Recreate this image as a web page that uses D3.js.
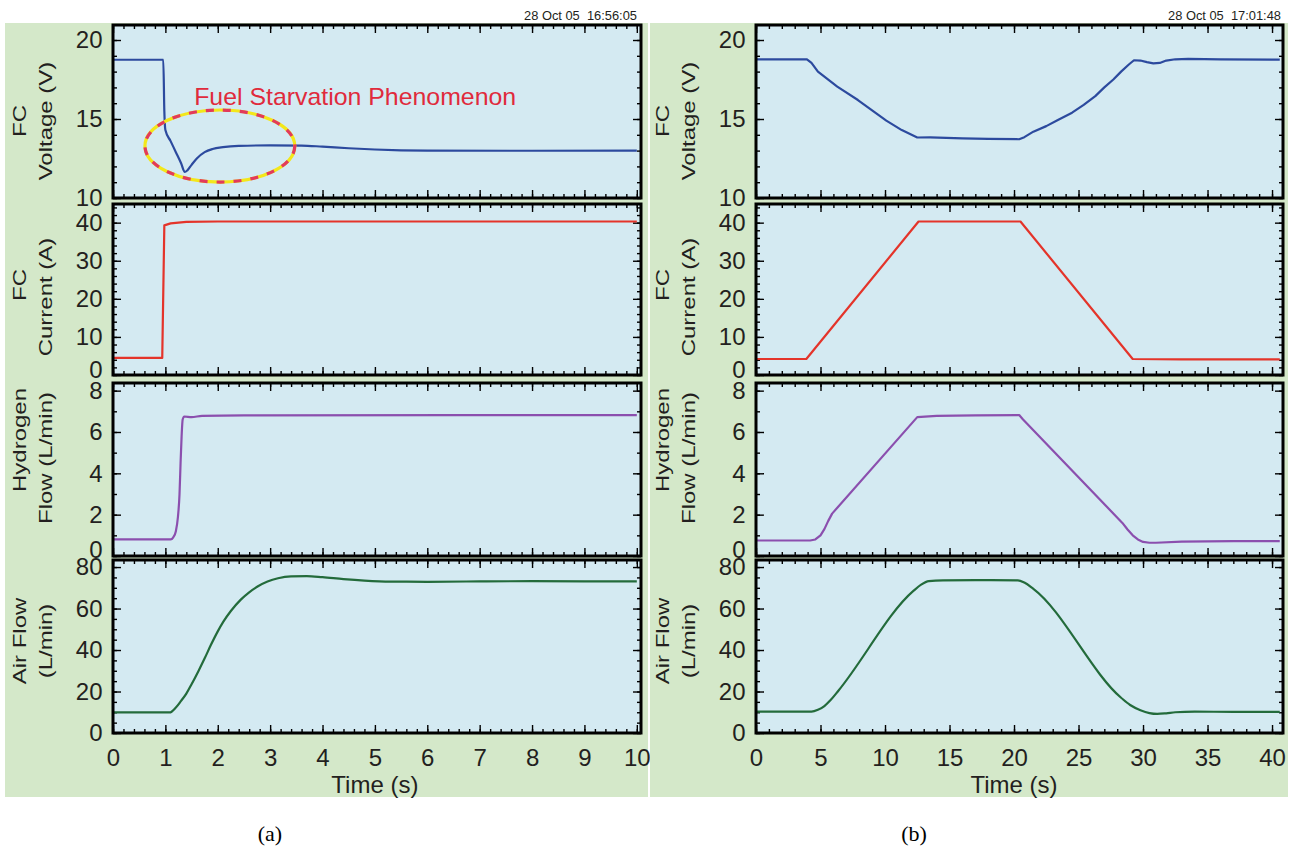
<!DOCTYPE html>
<html><head><meta charset="utf-8">
<script src="https://cdn.jsdelivr.net/npm/d3@7"></script>
<style>body{margin:0;background:#fff} svg{display:block} text{white-space:pre}</style>
</head><body>
<svg id="c" width="1296" height="849"></svg>
<script>
// ---------------- DATA ----------------
const yLabelLine1 = ["FC", "FC", "Hydrogen", "Air Flow"];
const yLabelLine2 = ["Voltage (V)", "Current (A)", "Flow (L/min)", "(L/min)"];
const yTickValues = [[10, 15, 20], [0, 10, 20, 30, 40], [0, 2, 4, 6, 8], [0, 20, 40, 60, 80]];
const yDomains = [[10, 20.95], [0, 44.9], [0, 8.37], [0, 83.4]];
const yMinorCounts = [11, 22, 8, 16];

const xTicksA = [0, 1, 2, 3, 4, 5, 6, 7, 8, 9, 10];
const xTicksB = [0, 5, 10, 15, 20, 25, 30, 35, 40];
const xDomainA = [0, 10.08];
const xDomainB = [0, 40.85];
const xMinorCountA = 50;
const xMinorCountB = 40;
const xAxisTitle = "Time (s)";
const timestampA = "28 Oct 05  16:56:05";
const timestampB = "28 Oct 05  17:01:48";
const figLetters = ["(a)", "(b)"];
const annotationText = "Fuel Starvation Phenomenon";

// Figure (a): step to 40 A at ~1 s
const tVoltA = [0, 0.96, 0.98, 1.0, 1.1, 1.2, 1.3, 1.37, 1.42, 1.5, 1.6, 1.75, 1.9, 2.1, 2.4, 3.0, 3.6, 4.0, 4.5, 5.0, 5.5, 6.0, 8.0, 10.0];
const voltA  = [18.75, 18.75, 15.5, 14.3, 13.6, 12.9, 12.2, 11.65, 11.75, 12.1, 12.5, 12.9, 13.1, 13.22, 13.3, 13.33, 13.32, 13.25, 13.15, 13.07, 13.02, 13.0, 12.99, 13.0];
const tCurrA = [0, 0.94, 0.98, 1.1, 1.4, 2.0, 10.0];
const currA  = [4.5, 4.5, 39.3, 39.8, 40.2, 40.3, 40.3];
const tH2A = [0, 1.1, 1.15, 1.2, 1.24, 1.27, 1.29, 1.31, 1.33, 1.36, 1.5, 1.7, 2.5, 10.0];
const h2A  = [0.8, 0.8, 0.9, 1.2, 1.9, 3.0, 4.5, 5.8, 6.6, 6.75, 6.72, 6.78, 6.8, 6.82];
const tAirA = [0, 1.08, 1.2, 1.3, 1.4, 1.5, 1.63, 1.75, 1.87, 2.0, 2.11, 2.25, 2.44, 2.6, 2.76, 2.95, 3.15, 3.4, 3.7, 4.0, 4.4, 4.8, 5.3, 6.0, 7.0, 8.0, 9.0, 10.0];
const airA  = [9.9, 9.9, 12.3, 15.5, 19, 23.5, 29.8, 36, 42.5, 49, 53.8, 58.8, 64.3, 67.8, 70.6, 73, 74.6, 75.5, 75.6, 75.1, 74.2, 73.5, 73.0, 72.9, 73.1, 73.2, 73.1, 73.1];

// Figure (b): ramp to 40 A and back
const tVoltB = [0, 3.95, 4.3, 4.8, 5.5, 6.3, 7.9, 9.0, 10.1, 11.3, 12.5, 13.5, 16, 18, 20.4, 20.8, 21.5, 22.5, 23.4, 24.5, 25.4, 26.3, 27.0, 27.7, 28.3, 28.9, 29.3, 29.8, 30.3, 30.8, 31.3, 31.8, 32.5, 33.5, 36, 40.6];
const voltB  = [18.78, 18.78, 18.55, 18.0, 17.55, 17.05, 16.2, 15.55, 14.9, 14.3, 13.83, 13.84, 13.78, 13.74, 13.72, 13.85, 14.2, 14.55, 14.94, 15.4, 15.9, 16.45, 17.0, 17.5, 18.0, 18.45, 18.72, 18.7, 18.6, 18.52, 18.55, 18.7, 18.78, 18.8, 18.78, 18.76];
const tCurrB = [0, 3.9, 12.6, 20.5, 29.2, 33, 40.6];
const currB  = [4.2, 4.2, 40.3, 40.3, 4.2, 4.1, 4.1];
const tH2B = [0, 4.2, 4.6, 5.0, 5.3, 5.6, 5.9, 12.5, 14, 17, 20.4, 20.7, 28.4, 28.8, 29.2, 29.6, 30.0, 30.5, 31, 33, 37, 40.6];
const h2B  = [0.75, 0.75, 0.8, 1.0, 1.3, 1.7, 2.05, 6.72, 6.78, 6.8, 6.82, 6.6, 1.6, 1.28, 1.0, 0.8, 0.68, 0.64, 0.64, 0.7, 0.72, 0.72];
const tAirB = [0, 4.3, 4.8, 5.3, 5.8, 6.4, 12.2, 12.8, 13.4, 14.5, 17, 20.3, 20.8, 21.5, 28.3, 29, 29.8, 30.5, 31.1, 31.8, 32.5, 34, 37, 40.6];
const airB  = [10.3, 10.3, 11.2, 13, 16, 20.5, 68.5, 71.5, 73.2, 73.6, 73.7, 73.6, 72.5, 69.5, 17, 13.5, 11, 9.6, 9.2, 9.5, 10.0, 10.3, 10.2, 10.2];

// annotation (data coordinates of figure a, voltage panel)
const ellipseCenter = [2.04, 13.29];
const ellipseRadii = [1.43, 2.28];
const annotationAnchor = [1.55, 15.89];

// ---------------- LAYOUT / STYLE ----------------
const seriesColors = ["#2c4a9e", "#e4342a", "#8b4fae", "#236b3b"];
const panelTop = [25, 204, 383, 560];
const panelBot = [198, 375, 556, 733];
const label1C = [121, 285, 440, 641];
const label2C = [121, 297, 458, 641];
const bottomLabelShift = [0, -5, -6, 0];
const greenBg = "#d4e8c9";
const blueBg = "#d4eaf2";
const textCol = "#231f20";
const FONT = "'Liberation Sans', Arial, Helvetica, sans-serif";
const LIN = d3.curveLinear, MONO = d3.curveMonotoneX;

const figs = [
  {left: 113, right: 641, bgX: 5, bgW: 643, domain: xDomainA, ticks: xTicksA, minor: xMinorCountA, stamp: timestampA, stampX: 524, letter: figLetters[0], letterX: 270,
   curves: [MONO, LIN, MONO, MONO],
   series: [[tVoltA, voltA], [tCurrA, currA], [tH2A, h2A], [tAirA, airA]]},
  {left: 756, right: 1283, bgX: 650, bgW: 638, domain: xDomainB, ticks: xTicksB, minor: xMinorCountB, stamp: timestampB, stampX: 1168, letter: figLetters[1], letterX: 914,
   curves: [LIN, LIN, LIN, MONO],
   series: [[tVoltB, voltB], [tCurrB, currB], [tH2B, h2B], [tAirB, airB]]}
];

const svg = d3.select("#c");
svg.append("rect").attr("width", 1296).attr("height", 849).attr("fill", "#fff");

figs.forEach((f, fi) => {
  const g = svg.append("g");
  g.append("rect").attr("x", f.bgX).attr("y", 23).attr("width", f.bgW).attr("height", 774).attr("fill", greenBg);

  g.append("text").attr("x", f.stampX).attr("y", 20).attr("font-family", FONT).attr("font-size", 12.5)
    .attr("fill", textCol).attr("textLength", 113).attr("lengthAdjust", "spacingAndGlyphs").text(f.stamp);

  const x = d3.scaleLinear().domain(f.domain).range([f.left, f.right]);

  for (let p = 0; p < 4; p++) {
    const y = d3.scaleLinear().domain(yDomains[p]).range([panelBot[p], panelTop[p]]);
    const pg = g.append("g");
    pg.append("rect").attr("x", f.left).attr("y", panelTop[p]).attr("width", f.right - f.left)
      .attr("height", panelBot[p] - panelTop[p]).attr("fill", blueBg);

    const cid = `clip${fi}${p}`;
    pg.append("clipPath").attr("id", cid).append("rect").attr("x", f.left).attr("y", panelTop[p])
      .attr("width", f.right - f.left).attr("height", panelBot[p] - panelTop[p]);

    // ticks
    const tickGroup = (axis, tx, ty) => {
      const a = pg.append("g").attr("transform", `translate(${tx},${ty})`).call(axis);
      a.select(".domain").remove();
      a.selectAll("line").attr("stroke", "#000").attr("stroke-width", 1.4);
      a.selectAll("text").remove();
    };
    const yMinor = y.ticks(yMinorCounts[p]);
    const xMinor = x.ticks(f.minor).filter(v => v <= f.domain[1]);
    tickGroup(d3.axisLeft(y).tickValues(yTickValues[p]).tickSize(-8), f.left, 0);
    tickGroup(d3.axisLeft(y).tickValues(yMinor).tickSize(-4), f.left, 0);
    tickGroup(d3.axisRight(y).tickValues(yTickValues[p]).tickSize(-8), f.right, 0);
    tickGroup(d3.axisRight(y).tickValues(yMinor).tickSize(-4), f.right, 0);
    tickGroup(d3.axisBottom(x).tickValues(f.ticks).tickSize(-8), 0, panelBot[p]);
    tickGroup(d3.axisBottom(x).tickValues(xMinor).tickSize(-4), 0, panelBot[p]);
    tickGroup(d3.axisTop(x).tickValues(f.ticks).tickSize(-8), 0, panelTop[p]);
    tickGroup(d3.axisTop(x).tickValues(xMinor).tickSize(-4), 0, panelTop[p]);

    // series line
    const [tt, vv] = f.series[p];
    const pts = tt.map((t, i) => [t, vv[i]]);
    pg.append("path").attr("clip-path", `url(#${cid})`).datum(pts)
      .attr("fill", "none").attr("stroke", seriesColors[p]).attr("stroke-width", 2.2)
      .attr("stroke-linejoin", "round")
      .attr("d", d3.line().x(d => x(d[0])).y(d => y(d[1])).curve(f.curves[p]));

    // frame
    pg.append("rect").attr("x", f.left).attr("y", panelTop[p]).attr("width", f.right - f.left)
      .attr("height", panelBot[p] - panelTop[p]).attr("fill", "none").attr("stroke", "#000").attr("stroke-width", 3);

    // y tick labels
    const yl = pg.append("g").attr("transform", `translate(${f.left},0)`)
      .call(d3.axisLeft(y).tickValues(yTickValues[p]).tickSize(0).tickPadding(10.5));
    yl.select(".domain").remove();
    yl.selectAll("text").attr("font-family", FONT).attr("font-size", 24).attr("fill", textCol);
    yl.selectAll(".tick").filter(d => d === yTickValues[p][0]).select("text")
      .attr("y", bottomLabelShift[p]);

    // y axis title (two lines, rotated)
    pg.append("text").attr("transform", `translate(${f.left - 86.7},${label1C[p]}) rotate(-90) scale(1,0.74)`)
      .attr("text-anchor", "middle").attr("font-family", FONT).attr("font-size", 24).attr("fill", textCol)
      .text(yLabelLine1[p]);
    pg.append("text").attr("transform", `translate(${f.left - 60.7},${label2C[p]}) rotate(-90) scale(1,0.74)`)
      .attr("text-anchor", "middle").attr("font-family", FONT).attr("font-size", 24).attr("fill", textCol)
      .text(yLabelLine2[p]);

    if (p === 3) {
      const xl = pg.append("g").attr("transform", `translate(0,${panelBot[p]})`)
        .call(d3.axisBottom(x).tickValues(f.ticks).tickSize(0).tickPadding(16));
      xl.select(".domain").remove();
      xl.selectAll("text").attr("font-family", FONT).attr("font-size", 24).attr("fill", textCol);
      g.append("text").attr("x", x(f.domain[0] + (f.ticks[f.ticks.length - 1] - f.ticks[0]) / 2)).attr("y", 793)
        .attr("text-anchor", "middle").attr("font-family", FONT).attr("font-size", 24).attr("fill", textCol)
        .text(xAxisTitle);
    }

    if (fi === 0 && p === 0) {
      const cx = x(ellipseCenter[0]), cy = y(ellipseCenter[1]);
      const rx = x(ellipseRadii[0]) - x(0), ry = y(ellipseCenter[1] - ellipseRadii[1]) - cy;
      pg.append("ellipse").attr("cx", cx).attr("cy", cy).attr("rx", rx).attr("ry", ry)
        .attr("fill", "none").attr("stroke", "#f3e71a").attr("stroke-width", 3.2);
      pg.append("ellipse").attr("cx", cx).attr("cy", cy).attr("rx", rx).attr("ry", ry)
        .attr("fill", "none").attr("stroke", "#e23a5c").attr("stroke-width", 3.2).attr("stroke-dasharray", "8 9");
      pg.append("text").attr("x", x(annotationAnchor[0])).attr("y", y(annotationAnchor[1]))
        .attr("font-family", FONT).attr("font-size", 24).attr("fill", "#e02a3c")
        .attr("textLength", 322).attr("lengthAdjust", "spacingAndGlyphs").text(annotationText);
    }
  }

  svg.append("text").attr("x", f.letterX).attr("y", 841).attr("text-anchor", "middle")
    .attr("font-family", "'Liberation Serif', 'Times New Roman', serif")
    .attr("font-size", 22).attr("fill", "#000").text(f.letter);
});
</script>
</body></html>
